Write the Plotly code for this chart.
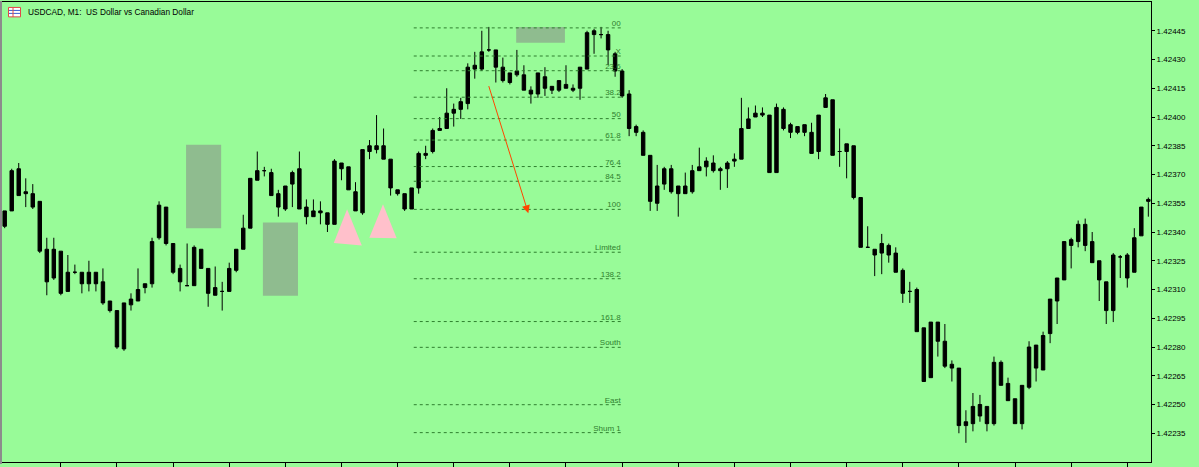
import plotly.graph_objects as go

# ---------------- data ----------------
opens = [1.42343,1.42351,1.42373,1.42361,1.42360,1.42356,1.42331,1.42316,1.42330,1.42309,
         1.42319,1.42319,1.42313,1.42319,1.42314,1.42304,1.42299,1.42279,1.42302,1.42304,
         1.42311,1.42313,1.42337,1.42353,1.42334,1.42321,1.42312,1.42312,1.42331,1.42321,
         1.42307,1.42309,1.42309,1.42320,1.42331,1.42342,1.42367,1.42372,1.42371,1.42360,
         1.42352,1.42365,1.42373,1.42353,1.42348,1.42351,1.42350,1.42344,1.42376,1.42374,
         1.42361,1.42350,1.42382,1.42385,1.42385,1.42378,1.42362,1.42360,1.42352,1.42363,
         1.42380,1.42382,1.42393,1.42394,1.42402,1.42404,1.42407,1.42425,1.42425,1.42435,
         1.42435,1.42426,1.42418,1.42422,1.42422,1.42414,1.42412,1.42421,1.42416,1.42414,
         1.42417,1.42415,1.42415,1.42425,1.42443,1.42443,1.42443,1.42433,1.42424,1.42412,
         1.42392,1.42392,1.42380,1.42355,1.42365,1.42373,1.42360,1.42364,1.42361,1.42372,
         1.42374,1.42376,1.42372,1.42373,1.42377,1.42378,1.42394,1.42400,1.42402,1.42401,
         1.42371,1.42404,1.42392,1.42395,1.42392,1.42392,1.42382,1.42405,1.42409,1.42382,
         1.42382,1.42385,1.42358,1.42332,1.42331,1.42329,1.42333,1.42329,1.42320,1.42309,
         1.42310,1.42290,1.42264,1.42293,1.42283,1.42271,1.42269,1.42239,1.42240,1.42250,
         1.42249,1.42240,1.42272,1.42261,1.42253,1.42240,1.42259,1.42281,1.42268,1.42287,
         1.42304,1.42315,1.42333,1.42335,1.42344,1.42335,1.42325,1.42314,1.42299,1.42327,
         1.42328,1.42319,1.42338,1.42356]
highs = [1.42351,1.42373,1.42376,1.42368,1.42365,1.42356,1.42337,1.42337,1.42330,1.42328,
         1.42323,1.42319,1.42325,1.42319,1.42321,1.42304,1.42299,1.42303,1.42308,1.42321,
         1.42313,1.42337,1.42356,1.42353,1.42334,1.42323,1.42334,1.42333,1.42331,1.42321,
         1.42322,1.42314,1.42324,1.42331,1.42349,1.42368,1.42382,1.42374,1.42373,1.42362,
         1.42364,1.42372,1.42382,1.42357,1.42357,1.42356,1.42350,1.42378,1.42376,1.42374,
         1.42366,1.42383,1.42388,1.42401,1.42394,1.42378,1.42362,1.42360,1.42363,1.42382,
         1.42385,1.42394,1.42400,1.42415,1.42407,1.42410,1.42428,1.42434,1.42445,1.42447,
         1.42435,1.42431,1.42423,1.42435,1.42427,1.42416,1.42423,1.42426,1.42416,1.42419,
         1.42427,1.42417,1.42426,1.42445,1.42446,1.42447,1.42445,1.42434,1.42425,1.42414,
         1.42396,1.42393,1.42380,1.42375,1.42374,1.42375,1.42364,1.42371,1.42375,1.42384,
         1.42379,1.42380,1.42374,1.42377,1.42381,1.42410,1.42405,1.42406,1.42405,1.42401,
         1.42407,1.42405,1.42397,1.42395,1.42396,1.42397,1.42401,1.42412,1.42409,1.42394,
         1.42386,1.42385,1.42358,1.42343,1.42331,1.42339,1.42334,1.42332,1.42321,1.42314,
         1.42311,1.42290,1.42293,1.42293,1.42292,1.42273,1.42269,1.42247,1.42256,1.42255,
         1.42249,1.42275,1.42273,1.42264,1.42253,1.42260,1.42283,1.42281,1.42288,1.42305,
         1.42316,1.42335,1.42337,1.42346,1.42347,1.42340,1.42325,1.42314,1.42329,1.42328,
         1.42329,1.42342,1.42353,1.42358]
lows = [1.42342,1.42351,1.42359,1.42353,1.42352,1.42329,1.42307,1.42315,1.42307,1.42309,
        1.42318,1.42308,1.42309,1.42309,1.42302,1.42298,1.42279,1.42278,1.42299,1.42304,
        1.42308,1.42311,1.42336,1.42333,1.42318,1.42309,1.42312,1.42312,1.42321,1.42301,
        1.42307,1.42299,1.42309,1.42319,1.42331,1.42342,1.42367,1.42369,1.42359,1.42348,
        1.42351,1.42353,1.42352,1.42344,1.42348,1.42344,1.42340,1.42344,1.42367,1.42362,
        1.42351,1.42349,1.42378,1.42381,1.42378,1.42359,1.42359,1.42351,1.42352,1.42360,
        1.42378,1.42381,1.42393,1.42394,1.42395,1.42399,1.42404,1.42420,1.42424,1.42434,
        1.42418,1.42418,1.42417,1.42421,1.42414,1.42407,1.42410,1.42411,1.42412,1.42413,
        1.42415,1.42413,1.42409,1.42425,1.42433,1.42441,1.42427,1.42421,1.42410,1.42390,
        1.42390,1.42380,1.42351,1.42351,1.42362,1.42360,1.42348,1.42360,1.42360,1.42372,
        1.42369,1.42371,1.42362,1.42363,1.42374,1.42378,1.42394,1.42400,1.42400,1.42371,
        1.42371,1.42393,1.42389,1.42391,1.42390,1.42381,1.42378,1.42405,1.42380,1.42374,
        1.42368,1.42357,1.42332,1.42332,1.42317,1.42318,1.42324,1.42319,1.42303,1.42303,
        1.42288,1.42262,1.42264,1.42275,1.42269,1.42262,1.42235,1.42230,1.42236,1.42241,
        1.42236,1.42239,1.42260,1.42252,1.42240,1.42237,1.42258,1.42262,1.42268,1.42282,
        1.42292,1.42315,1.42321,1.42332,1.42330,1.42324,1.42304,1.42292,1.42293,1.42316,
        1.42311,1.42319,1.42338,1.42348]
closes = [1.42351,1.42372,1.42359,1.42360,1.42353,1.42330,1.42314,1.42331,1.42308,1.42319,
          1.42319,1.42313,1.42319,1.42313,1.42303,1.42299,1.42280,1.42303,1.42305,1.42310,
          1.42313,1.42335,1.42354,1.42334,1.42319,1.42314,1.42312,1.42332,1.42321,1.42308,
          1.42311,1.42309,1.42321,1.42331,1.42342,1.42368,1.42372,1.42372,1.42359,1.42353,
          1.42364,1.42371,1.42352,1.42348,1.42351,1.42350,1.42344,1.42377,1.42373,1.42362,
          1.42351,1.42383,1.42385,1.42383,1.42378,1.42363,1.42360,1.42352,1.42363,1.42381,
          1.42381,1.42393,1.42394,1.42402,1.42404,1.42408,1.42426,1.42427,1.42434,1.42435,
          1.42426,1.42419,1.42423,1.42424,1.42414,1.42412,1.42423,1.42415,1.42414,1.42419,
          1.42415,1.42414,1.42426,1.42444,1.42445,1.42443,1.42435,1.42424,1.42411,1.42394,
          1.42395,1.42380,1.42356,1.42364,1.42373,1.42361,1.42364,1.42360,1.42372,1.42374,
          1.42377,1.42372,1.42373,1.42376,1.42378,1.42394,1.42399,1.42402,1.42401,1.42371,
          1.42405,1.42394,1.42396,1.42392,1.42396,1.42381,1.42401,1.42410,1.42380,1.42382,
          1.42386,1.42358,1.42332,1.42332,1.42328,1.42334,1.42328,1.42319,1.42308,1.42309,
          1.42288,1.42262,1.42293,1.42283,1.42270,1.42269,1.42239,1.42241,1.42249,1.42244,
          1.42240,1.42272,1.42260,1.42252,1.42240,1.42260,1.42280,1.42269,1.42286,1.42305,
          1.42316,1.42335,1.42336,1.42344,1.42333,1.42324,1.42315,1.42299,1.42328,1.42327,
          1.42316,1.42337,1.42353,1.42357]
bars = list(range(len(opens)))

price_ticks = [1.42235, 1.42250, 1.42265, 1.42280, 1.42295, 1.42310, 1.42325,
               1.42340, 1.42355, 1.42370, 1.42385, 1.42400, 1.42415, 1.42430, 1.42445]
time_ticks = list(range(8, 161, 8))

# Fibonacci object
fib_start, fib_end = 58.3, 88.1
fib_0, fib_100 = 1.424465, 1.423518
fib_ratios = [0.0, 0.155, 0.236, 0.382, 0.5, 0.618, 0.764, 0.845, 1.0,
              1.236, 1.382, 1.618, 1.76, 2.076, 2.23]
fib_labels = ["00", "X", "23.6", "38.2", "50", "61.8", "76.4", "84.5", "100",
              "Limited", "138.2", "161.8", "South", "East", "Shum 1"]
fib_label_x = 87.8

# rectangles: (x0, x1, price_top, price_bottom)
rect_x0 = [25.85, 36.8, 72.9]
rect_x1 = [30.85, 41.8, 79.85]
rect_top = [1.423855, 1.423450, 1.424470]
rect_bot = [1.423420, 1.423068, 1.424388]

# triangles: (left, apex, right)
tri_x = [[46.9, 48.8, 50.9], [51.97, 53.92, 55.87]]
tri_y = [[1.423342, 1.423519, 1.42333], [1.42337, 1.423545, 1.423368]]

# arrow
arrow_x0, arrow_y0 = 68.93, 1.424169
arrow_x1, arrow_y1 = 74.63, 1.423498

BG = "#98FB98"
FIB_COL = "#2f7f2f"

fig = go.Figure()

# fibo lines
fx, fy = [], []
levels = [fib_0 - r * (fib_0 - fib_100) for r in fib_ratios]
for lv in levels:
    fx += [fib_start, fib_end, None]
    fy += [lv, lv, None]
fig.add_trace(go.Scatter(x=fx, y=fy, mode="lines",
                         line=dict(color=FIB_COL, width=1, dash="3px,3px"),
                         hoverinfo="skip"))
fig.add_trace(go.Scatter(x=[fib_label_x] * len(levels), y=levels, mode="text",
                         text=fib_labels, textposition="top left",
                         textfont=dict(family="Liberation Sans", size=8, color=FIB_COL),
                         hoverinfo="skip"))

# triangles
for tx, ty in zip(tri_x, tri_y):
    fig.add_trace(go.Scatter(x=tx + [tx[0]], y=ty + [ty[0]], mode="lines",
                             fill="toself", fillcolor="#FFC0CB",
                             line=dict(width=0, color="#FFC0CB"), hoverinfo="skip"))

# candles
fig.add_trace(go.Candlestick(
    x=bars, open=opens, high=highs, low=lows, close=closes,
    increasing=dict(line=dict(color="#000000", width=1), fillcolor="#000000"),
    decreasing=dict(line=dict(color="#000000", width=1), fillcolor="#000000"),
    whiskerwidth=0, hoverinfo="skip"))

shapes = []
for x0, x1, t, b in zip(rect_x0, rect_x1, rect_top, rect_bot):
    shapes.append(dict(type="rect", xref="x", yref="y", x0=x0, x1=x1, y0=b, y1=t,
                       fillcolor="#8FBC8F", line=dict(width=0), layer="below"))

# figure geometry in pixels (for the window decorations)
W, H = 1199, 467
ML, MR, MT, MB = 2, 48, 1, 2
PW, PH = W - ML - MR, H - MT - MB


def px(x):
    return (x - ML) / PW


def py(y):
    return 1 - (y - MT) / PH


# left window border
shapes.append(dict(type="rect", xref="paper", yref="paper", x0=px(0), x1=px(2),
                   y0=py(H), y1=py(0), fillcolor="#8c8c8c", line=dict(width=0)))
# title icon
shapes.append(dict(type="rect", xref="paper", yref="paper", x0=px(8.5), x1=px(20.5),
                   y0=py(16), y1=py(6.5), fillcolor="#ffffff",
                   line=dict(color="#e04848", width=1)))
for yy in (9.5, 12.5):
    shapes.append(dict(type="line", xref="paper", yref="paper", x0=px(9), x1=px(20),
                       y0=py(yy), y1=py(yy), line=dict(color="#3a5fd0", width=1)))
shapes.append(dict(type="line", xref="paper", yref="paper", x0=px(13), x1=px(13),
                   y0=py(16), y1=py(7), line=dict(color="#e04848", width=1)))

annotations = [
    dict(xref="paper", yref="paper", x=px(26), y=py(11), xanchor="left", yanchor="middle",
         text="USDCAD, M1:\u00a0 US Dollar vs Canadian Dollar", showarrow=False,
         font=dict(family="Liberation Sans", size=8.3, color="#000000")),
    dict(x=arrow_x1, y=arrow_y1, ax=arrow_x0, ay=arrow_y0, xref="x", yref="y",
         axref="x", ayref="y", text="", showarrow=True, arrowhead=2, arrowsize=1.6,
         arrowwidth=1, arrowcolor="#FF4500", standoff=0, startstandoff=0),
]

fig.update_layout(
    width=W, height=H,
    margin=dict(l=ML, r=MR, t=MT, b=MB, pad=0),
    paper_bgcolor=BG, plot_bgcolor=BG,
    showlegend=False,
    shapes=shapes, annotations=annotations,
    xaxis=dict(range=[-0.385, 163.38], showgrid=False, zeroline=False,
               showline=True, linecolor="#000000", linewidth=1, mirror=True,
               ticks="outside", tickvals=time_ticks, ticklen=4, tickcolor="#000000",
               showticklabels=False, rangeslider=dict(visible=False), fixedrange=True),
    yaxis=dict(range=[1.4222, 1.4246], side="right", showgrid=False, zeroline=False,
               showline=True, linecolor="#000000", linewidth=1,
               ticks="outside", ticklen=3, tickcolor="#000000",
               tickvals=price_ticks, ticktext=[f"{v:.5f}" for v in price_ticks],
               tickfont=dict(family="Liberation Sans", size=8, color="#000000"),
               fixedrange=True),
)

fig.write_html(
    "out.html",
    config={"displayModeBar": False},
    post_script="document.body.style.margin='0';document.body.style.overflow='hidden';"
                "document.body.style.background='" + BG + "';",
)
